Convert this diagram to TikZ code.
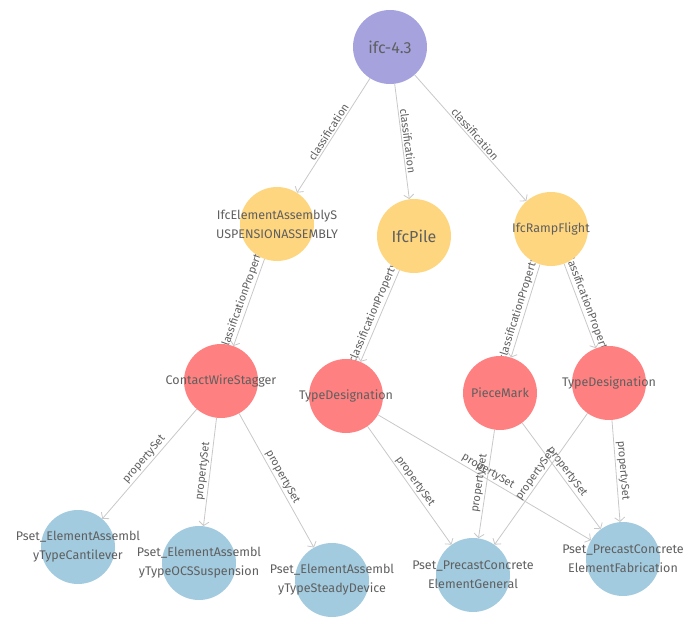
\documentclass[tikz,border=0pt]{standalone}
\usepackage{fontspec}
\setmainfont{Fira Sans}
\usetikzlibrary{arrows.meta,backgrounds}
\definecolor{cRoot}{RGB}{165,162,222}
\definecolor{cClass}{RGB}{255,214,128}
\definecolor{cProp}{RGB}{255,128,128}
\definecolor{cPset}{RGB}{162,203,223}
\definecolor{cEdge}{RGB}{200,200,200}
\definecolor{cText}{RGB}{95,95,95}

\begin{document}
\begin{tikzpicture}[
    x=1pt, y=-1pt,
    ent/.style={circle,minimum size=74pt,inner sep=0pt},
    txt/.style={align=center,text=cText,font=\fontsize{12.5}{19}\selectfont},
    big/.style={txt,font=\fontsize{16}{18}\selectfont},
    rel/.style={->,draw=cEdge,line width=0.8pt},
    lbl/.style={midway,sloped,above,inner sep=1.5pt,text=cText,font=\fontsize{11}{12}\selectfont},
    >={Straight Barb[length=4pt,width=10pt]}
  ]
  \useasboundingbox (0,0) rectangle (694,619);

  % circles
  \node[ent,fill=cRoot]  (root)   at (390,47)  {};
  \node[ent,fill=cClass] (asm)    at (277,224) {};
  \node[ent,fill=cClass] (pile)   at (414,236) {};
  \node[ent,fill=cClass] (ramp)   at (551,229) {};
  \node[ent,fill=cProp]  (cws)    at (221,381) {};
  \node[ent,fill=cProp]  (tdA)    at (346,396) {};
  \node[ent,fill=cProp]  (pm)     at (500,393) {};
  \node[ent,fill=cProp]  (tdB)    at (609,383) {};
  \node[ent,fill=cPset]  (cant)   at (78,547)  {};
  \node[ent,fill=cPset]  (ocs)    at (199,563) {};
  \node[ent,fill=cPset]  (steady) at (332,580) {};
  \node[ent,fill=cPset]  (gen)    at (473,575) {};
  \node[ent,fill=cPset]  (fab)    at (623,559) {};

  % texts
  \node[big] (root-t)   at (root)   {ifc-4.3};
  \node[txt] (asm-t)    at (asm)    {IfcElementAssemblyS\\USPENSIONASSEMBLY};
  \node[big] (pile-t)   at (pile)   {IfcPile};
  \node[txt] (ramp-t)   at (ramp)   {IfcRampFlight};
  \node[txt] (cws-t)    at (cws)    {ContactWireStagger};
  \node[txt] (tdA-t)    at (tdA)    {TypeDesignation};
  \node[txt] (pm-t)     at (pm)     {PieceMark};
  \node[txt] (tdB-t)    at (tdB)    {TypeDesignation};
  \node[txt] (cant-t)   at (cant)   {Pset\_ElementAssembl\\yTypeCantilever};
  \node[txt] (ocs-t)    at (ocs)    {Pset\_ElementAssembl\\yTypeOCSSuspension};
  \node[txt] (steady-t) at (steady) {Pset\_ElementAssembl\\yTypeSteadyDevice};
  \node[txt] (gen-t)    at (gen)    {Pset\_PrecastConcrete\\ElementGeneral};
  \node[txt] (fab-t)    at (fab)    {Pset\_PrecastConcrete\\ElementFabrication};

  % relations, under the circles
  \begin{pgfonlayer}{background}
    \draw[rel] (root) -- (asm)  node[lbl] {classification};
    \draw[rel] (root) -- (pile) node[lbl] {classification};
    \draw[rel] (root) -- (ramp) node[lbl] {classification};
    \draw[rel] (asm)  -- (cws)  node[lbl] {classificationProperty};
    \draw[rel] (pile) -- (tdA)  node[lbl] {classificationProperty};
    \draw[rel] (ramp) -- (pm)   node[lbl] {classificationProperty};
    \draw[rel] (ramp) -- (tdB)  node[lbl] {classificationProperty};
    \draw[rel] (cws)  -- (cant)   node[lbl] {propertySet};
    \draw[rel] (cws)  -- (ocs)    node[lbl] {propertySet};
    \draw[rel] (cws)  -- (steady) node[lbl] {propertySet};
    \draw[rel] (tdA)  -- (gen) node[lbl] {propertySet};
    \draw[rel] (tdA)  -- (fab) node[lbl] {propertySet};
    \draw[rel] (pm)   -- (gen) node[lbl] {propertySet};
    \draw[rel] (pm)   -- (fab) node[lbl] {propertySet};
    \draw[rel] (tdB)  -- (gen) node[lbl] {propertySet};
    \draw[rel] (tdB)  -- (fab) node[lbl] {propertySet};
  \end{pgfonlayer}
\end{tikzpicture}
\end{document}
